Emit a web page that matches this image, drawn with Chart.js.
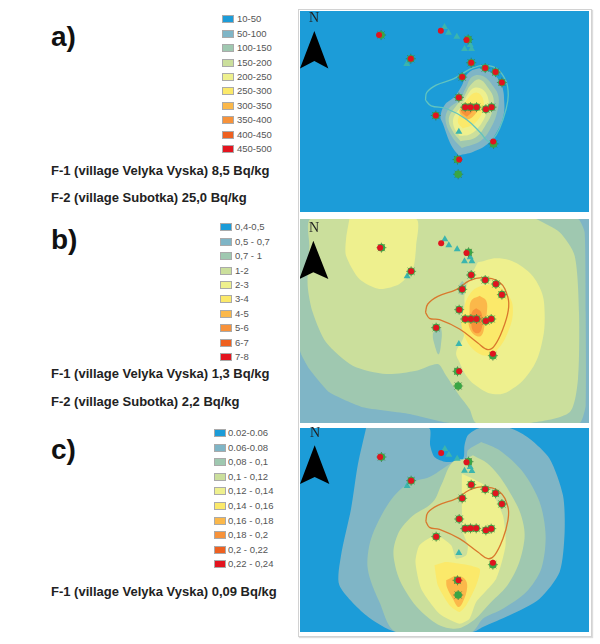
<!DOCTYPE html>
<html>
<head>
<meta charset="utf-8">
<script src="https://cdn.jsdelivr.net/npm/chart.js@4"></script>
<style>
  html, body { margin: 0; background: #fff; }
  body { position: relative; width: 600px; height: 644px; overflow: hidden; font-family: "Liberation Sans", sans-serif; }
  .frame { position: absolute; left: 298px; top: 9px; width: 292px; height: 626px; border: 1px solid #d2d2d2; box-shadow: 1px 1px 1px #ddd; }
  canvas { position: absolute; left: 300px; filter: blur(0.7px); }
  .tag { position: absolute; font-weight: bold; font-size: 28px; line-height: 28px; color: #111; }
  .note { position: absolute; left: 51px; font-weight: bold; font-size: 13px; line-height: 14px; color: #222; white-space: nowrap; }
  .swatch { position: absolute; width: 12px; height: 8px; border: 1px solid #aaa; box-sizing: border-box; }
  .lab { position: absolute; font-size: 9.5px; line-height: 12px; color: #555; white-space: nowrap; }
  .north { position: absolute; font-family: "Liberation Serif", serif; font-size: 14px; line-height: 14px; color: #222; }
</style>
</head>
<body>
<div class="frame"></div>
<canvas id="mapA" width="289" height="201" style="top:11px"></canvas>
<canvas id="mapB" width="289" height="204" style="top:219px"></canvas>
<canvas id="mapC" width="289" height="204" style="top:428px"></canvas>
<script>
  // ———————— Legend ————————
  const classColors = ['#1c9cd8', '#7fb5c6', '#9fc8b0', '#cbdf9c', '#eef08e', '#fbe96a', '#fbb84a', '#f7923a', '#ee6020', '#e3141f'];
  const labelsA = ['10-50', '50-100', '100-150', '150-200', '200-250', '250-300', '300-350', '350-400', '400-450', '450-500'];
  const labelsB = ['0,4-0,5', '0,5 - 0,7', '0,7 - 1', '1-2', '2-3', '3-4', '4-5', '5-6', '6-7', '7-8'];
  const labelsC = ['0.02-0.06', '0.06-0.08', '0,08 - 0,1', '0,1 - 0,12', '0,12 - 0,14', '0,14 - 0,16', '0,16 - 0,18', '0,18 - 0,2', '0,2 - 0,22', '0,22 - 0,24'];

  // ———————— Sampling sites (map units) ————————
  const sitesA = [[249,90],[344,161],[434,77],[511,105],[525,173],[567,189],[598,201],[617,232],[498,216],[488,277],[507,306],[523,306],[541,306],[569,312],[586,306],[419,331],[591,409],[489,463]];
  const sitesB = [[252,106],[345,177],[435,93],[511,122],[525,188],[567,203],[599,215],[617,247],[498,231],[489,292],[507,320],[524,320],[541,320],[569,326],[585,320],[420,346],[590,424],[489,477]];
  const sitesC = [[252,105],[345,176],[435,93],[511,121],[525,188],[567,202],[598,214],[617,246],[498,229],[489,291],[507,320],[523,319],[540,319],[569,325],[585,320],[420,344],[590,422],[487,475]];
  const halosA = [[255,90],[344,161],[516,103],[525,173],[567,189],[598,201],[617,232],[498,216],[488,277],[507,306],[523,306],[541,306],[569,312],[586,306],[419,331],[592,416],[484,463],[486,507]];
  const halosB = [[256,106],[345,177],[517,120],[525,188],[567,203],[599,215],[617,247],[498,231],[489,292],[507,320],[524,320],[541,320],[569,326],[585,320],[420,346],[590,430],[484,477],[486,521]];
  const halosC = [[256,105],[345,176],[517,119],[525,188],[567,202],[598,214],[617,246],[498,229],[489,291],[507,320],[523,319],[540,319],[569,325],[585,320],[420,344],[590,428],[484,475],[486,519]];
  const trianglesA = [[445,66],[457,83],[482,95],[505,132],[526,132],[522,120],[488,380],[332,177]];
  const trianglesB = [[446,81],[458,99],[483,111],[505,147],[527,147],[522,135],[488,395],[333,192]];
  const trianglesC = [[446,81],[458,98],[483,110],[505,146],[527,147],[522,135],[488,393],[333,192]];

  // ———————— Village boundary ————————
  const boundaryA = [[388,285],[392,262],[420,240],[470,222],[500,205],[530,188],[570,181],[605,193],[630,230],[636,270],[630,310],[610,370],[590,402],[575,408],[555,385],[510,342],[450,310],[405,302],[388,285]];
  const boundaryB = [[388,300],[395,275],[425,252],[480,232],[520,205],[560,196],[610,210],[635,255],[636,295],[620,350],[595,400],[575,412],[545,392],[490,350],[430,322],[400,318],[388,300]];
  const boundaryC = [[389,298],[395,272],[425,250],[480,230],[520,204],[560,195],[610,209],[635,255],[635,295],[620,350],[595,400],[575,410],[545,390],[490,350],[430,322],[400,316],[389,298]];

  // ———————— North arrows ————————
  const arrowA = [[55,78],[97,190],[55,168],[12,190],[55,78]];
  const arrowB = [[52,85],[97,200],[52,180],[10,200],[52,85]];
  const arrowC = [[56,70],[100,186],[56,165],[12,186],[56,70]];

  // ———————— Contours a) class index, outline ————————
  const contoursA = [
    [0, [[12,18],[878,18],[878,620],[12,620],[12,18]], 0],
    [1, [[487,450],[465,420],[440,355],[433,335],[445,300],[475,275],[495,245],[515,205],[545,190],[570,195],[600,215],[618,245],[624,290],[622,330],[602,380],[572,418],[530,440],[487,450]]],
    [2, [[497,428],[468,395],[448,345],[458,310],[488,285],[508,250],[528,215],[560,213],[592,245],[607,275],[603,320],[583,370],[553,407],[497,428]]],
    [3, [[493,408],[468,375],[458,340],[478,305],[503,275],[523,240],[550,223],[577,250],[592,280],[588,320],[568,360],[538,397],[493,408]]],
    [4, [[490,392],[473,365],[473,335],[498,300],[513,270],[535,248],[562,255],[577,285],[572,320],[552,360],[522,387],[490,392]]],
    [5, [[500,370],[485,350],[495,320],[515,280],[540,262],[560,280],[560,315],[535,355],[500,370]]],
    [6, [[510,345],[490,320],[505,298],[530,295],[545,310],[530,335],[510,345]]],
    [7, [[512,335],[495,318],[510,305],[530,315],[512,335]]]
  ];

  // ———————— Contours b) ————————
  const contoursB = [
    [1, [[12,20],[878,20],[878,632],[12,632],[12,20]], 0],
    [2, [[12,20],[845,20],[865,60],[868,300],[868,580],[850,632],[460,632],[340,605],[200,585],[100,540],[40,470],[12,415],[12,20]], 0.15],
    [3, [[720,20],[790,60],[835,130],[848,300],[845,500],[820,600],[700,632],[540,632],[520,590],[490,550],[450,490],[425,455],[360,475],[270,485],[170,460],[90,390],[50,300],[35,220],[40,100],[45,20],[720,20]], 0.25],
    [2, [[420,350],[435,350],[434,400],[427,426],[416,400],[410,365],[420,350]]],
    [2, [[498,205],[510,222],[505,245],[490,245],[488,222],[498,205]]],
    [4, [[160,20],[360,20],[360,100],[350,170],[310,215],[250,230],[190,200],[150,130],[150,80],[160,20]], 0.25],
    [4, [[545,150],[610,138],[680,165],[730,225],[745,300],[735,400],[700,480],[640,535],[590,545],[540,520],[510,490],[490,450],[480,420],[500,380],[510,340],[505,250],[520,200],[545,150]]],
    [5, [[500,300],[515,255],[545,225],[600,220],[640,255],[650,300],[635,360],[605,410],[570,430],[530,410],[505,370],[495,330],[500,300]]],
    [6, [[550,250],[570,265],[572,300],[565,340],[555,370],[535,368],[518,340],[520,300],[525,265],[550,250]]],
    [7, [[540,288],[555,300],[558,340],[548,362],[530,355],[525,320],[528,298],[540,288]]]
  ];

  // ———————— Contours c) ————————
  const contoursC = [
    [0, [[12,18],[878,18],[878,630],[12,630],[12,18]], 0],
    [1, [[210,18],[398,18],[402,70],[415,105],[450,120],[500,112],[505,70],[515,40],[550,18],[640,18],[700,50],[760,110],[800,220],[805,330],[790,450],[730,530],[640,580],[560,615],[530,630],[300,630],[210,580],[130,490],[135,400],[165,260],[185,130],[210,18]], 0.25],
    [2, [[555,60],[610,85],[680,150],[730,240],[748,340],[735,440],[690,510],[620,560],[560,590],[525,630],[300,630],[250,540],[215,440],[225,350],[280,240],[335,185],[400,165],[440,140],[480,115],[510,110],[515,85],[555,60]], 0.3],
    [3, [[530,100],[580,130],[640,210],[680,300],[680,380],[640,480],[580,545],[525,600],[470,620],[400,590],[330,510],[295,420],[300,350],[340,290],[410,240],[435,190],[470,120],[510,110],[530,100]]],
    [4, [[497,155],[530,170],[580,200],[620,280],[628,370],[600,470],[540,540],[520,590],[490,605],[430,575],[375,500],[358,420],[370,370],[420,340],[465,370],[480,410],[510,400],[515,370],[500,330],[497,250],[497,155]], 0.2],
    [5, [[415,430],[450,420],[550,440],[540,490],[510,550],[490,570],[460,550],[425,490],[415,430]], 0.2],
    [6, [[450,475],[480,462],[505,470],[513,495],[500,540],[487,555],[470,530],[452,495],[450,475]]]
  ];

  const toXY = pts => pts.map(p => ({ x: p[0], y: p[1] }));

  function drawMap(id, yMin, yMax, contours, boundary, boundaryColor, arrow, halos, sites, triangles) {
    const sets = contours.map(c => ({
      data: toXY(c[1]), showLine: true, fill: 'shape', tension: c[2] === undefined ? 0.4 : c[2],
      backgroundColor: classColors[c[0]], borderColor: classColors[c[0]], borderWidth: 0, pointRadius: 0
    }));
    sets.push({ data: toXY(boundary), showLine: true, fill: false, tension: 0.4, borderColor: boundaryColor, borderWidth: 1.3, pointRadius: 0 });
    sets.push({ data: toXY(arrow), showLine: true, fill: 'shape', tension: 0, backgroundColor: '#000', borderColor: '#000', borderWidth: 0, pointRadius: 0 });
    sets.push({ data: toXY(triangles), pointStyle: 'triangle', pointRadius: 4, backgroundColor: '#3bb5ae', borderWidth: 0 });
    sets.push({ data: toXY(halos), pointStyle: 'star', pointRadius: 5, borderColor: '#3c6e3c', borderWidth: 0.7, backgroundColor: 'transparent' });
    sets.push({ data: toXY(halos), pointStyle: 'circle', pointRadius: 3.8, backgroundColor: '#3aa545', borderWidth: 0 });
    sets.push({ data: toXY(sites), pointStyle: 'circle', pointRadius: 3, backgroundColor: '#e0141f', borderWidth: 0 });
    // first dataset is painted last by default, so flip it
    sets.forEach((s, i) => { s.order = sets.length - i; });

    new Chart(document.getElementById(id), {
      type: 'scatter',
      data: { datasets: sets },
      options: {
        responsive: false,
        animation: false,
        layout: { padding: 0, autoPadding: false },
        plugins: { legend: { display: false }, tooltip: { enabled: false } },
        scales: {
          x: { type: 'linear', min: 12, max: 878, display: false },
          y: { type: 'linear', min: yMin, max: yMax, reverse: true, display: false }
        }
      }
    });
  }

  drawMap('mapA', 18, 620, contoursA, boundaryA, '#62c4bf', arrowA, halosA, sitesA, trianglesA);
  drawMap('mapB', 20, 632, contoursB, boundaryB, '#d9782d', arrowB, halosB, sitesB, trianglesB);
  drawMap('mapC', 18, 630, contoursC, boundaryC, '#d9782d', arrowC, halosC, sitesC, trianglesC);

  // ———————— Left column text ————————
  function addText(cls, text, left, top) {
    const el = document.createElement('div');
    el.className = cls;
    el.textContent = text;
    if (left !== null) el.style.left = left + 'px';
    el.style.top = top + 'px';
    document.body.appendChild(el);
  }

  function addLegend(labels, swatchX, textX, firstY, step) {
    labels.forEach((lab, i) => {
      const y = firstY + i * step;
      const sw = document.createElement('div');
      sw.className = 'swatch';
      sw.style.left = swatchX + 'px';
      sw.style.top = (y - 4) + 'px';
      sw.style.background = classColors[i];
      document.body.appendChild(sw);
      addText('lab', lab, textX, y - 6);
    });
  }

  addLegend(labelsA, 222, 237, 19.3, 14.4);
  addLegend(labelsB, 220, 235, 227.3, 14.4);
  addLegend(labelsC, 214, 228, 433, 14.6);

  addText('tag', 'a)', 51, 23);
  addText('tag', 'b)', 51, 226);
  addText('tag', 'c)', 51, 436);
  addText('note', 'F-1 (village Velyka Vyska) 8,5 Bq/kg', null, 164);
  addText('note', 'F-2 (village Subotka) 25,0 Bq/kg', null, 191);
  addText('note', 'F-1 (village Velyka Vyska) 1,3 Bq/kg', null, 367);
  addText('note', 'F-2 (village Subotka) 2,2 Bq/kg', null, 395);
  addText('note', 'F-1 (village Velyka Vyska) 0,09 Bq/kg', null, 585);
  addText('north', 'N', 309, 11);
  addText('north', 'N', 309, 221);
  addText('north', 'N', 310, 426);
</script>
</body>
</html>
